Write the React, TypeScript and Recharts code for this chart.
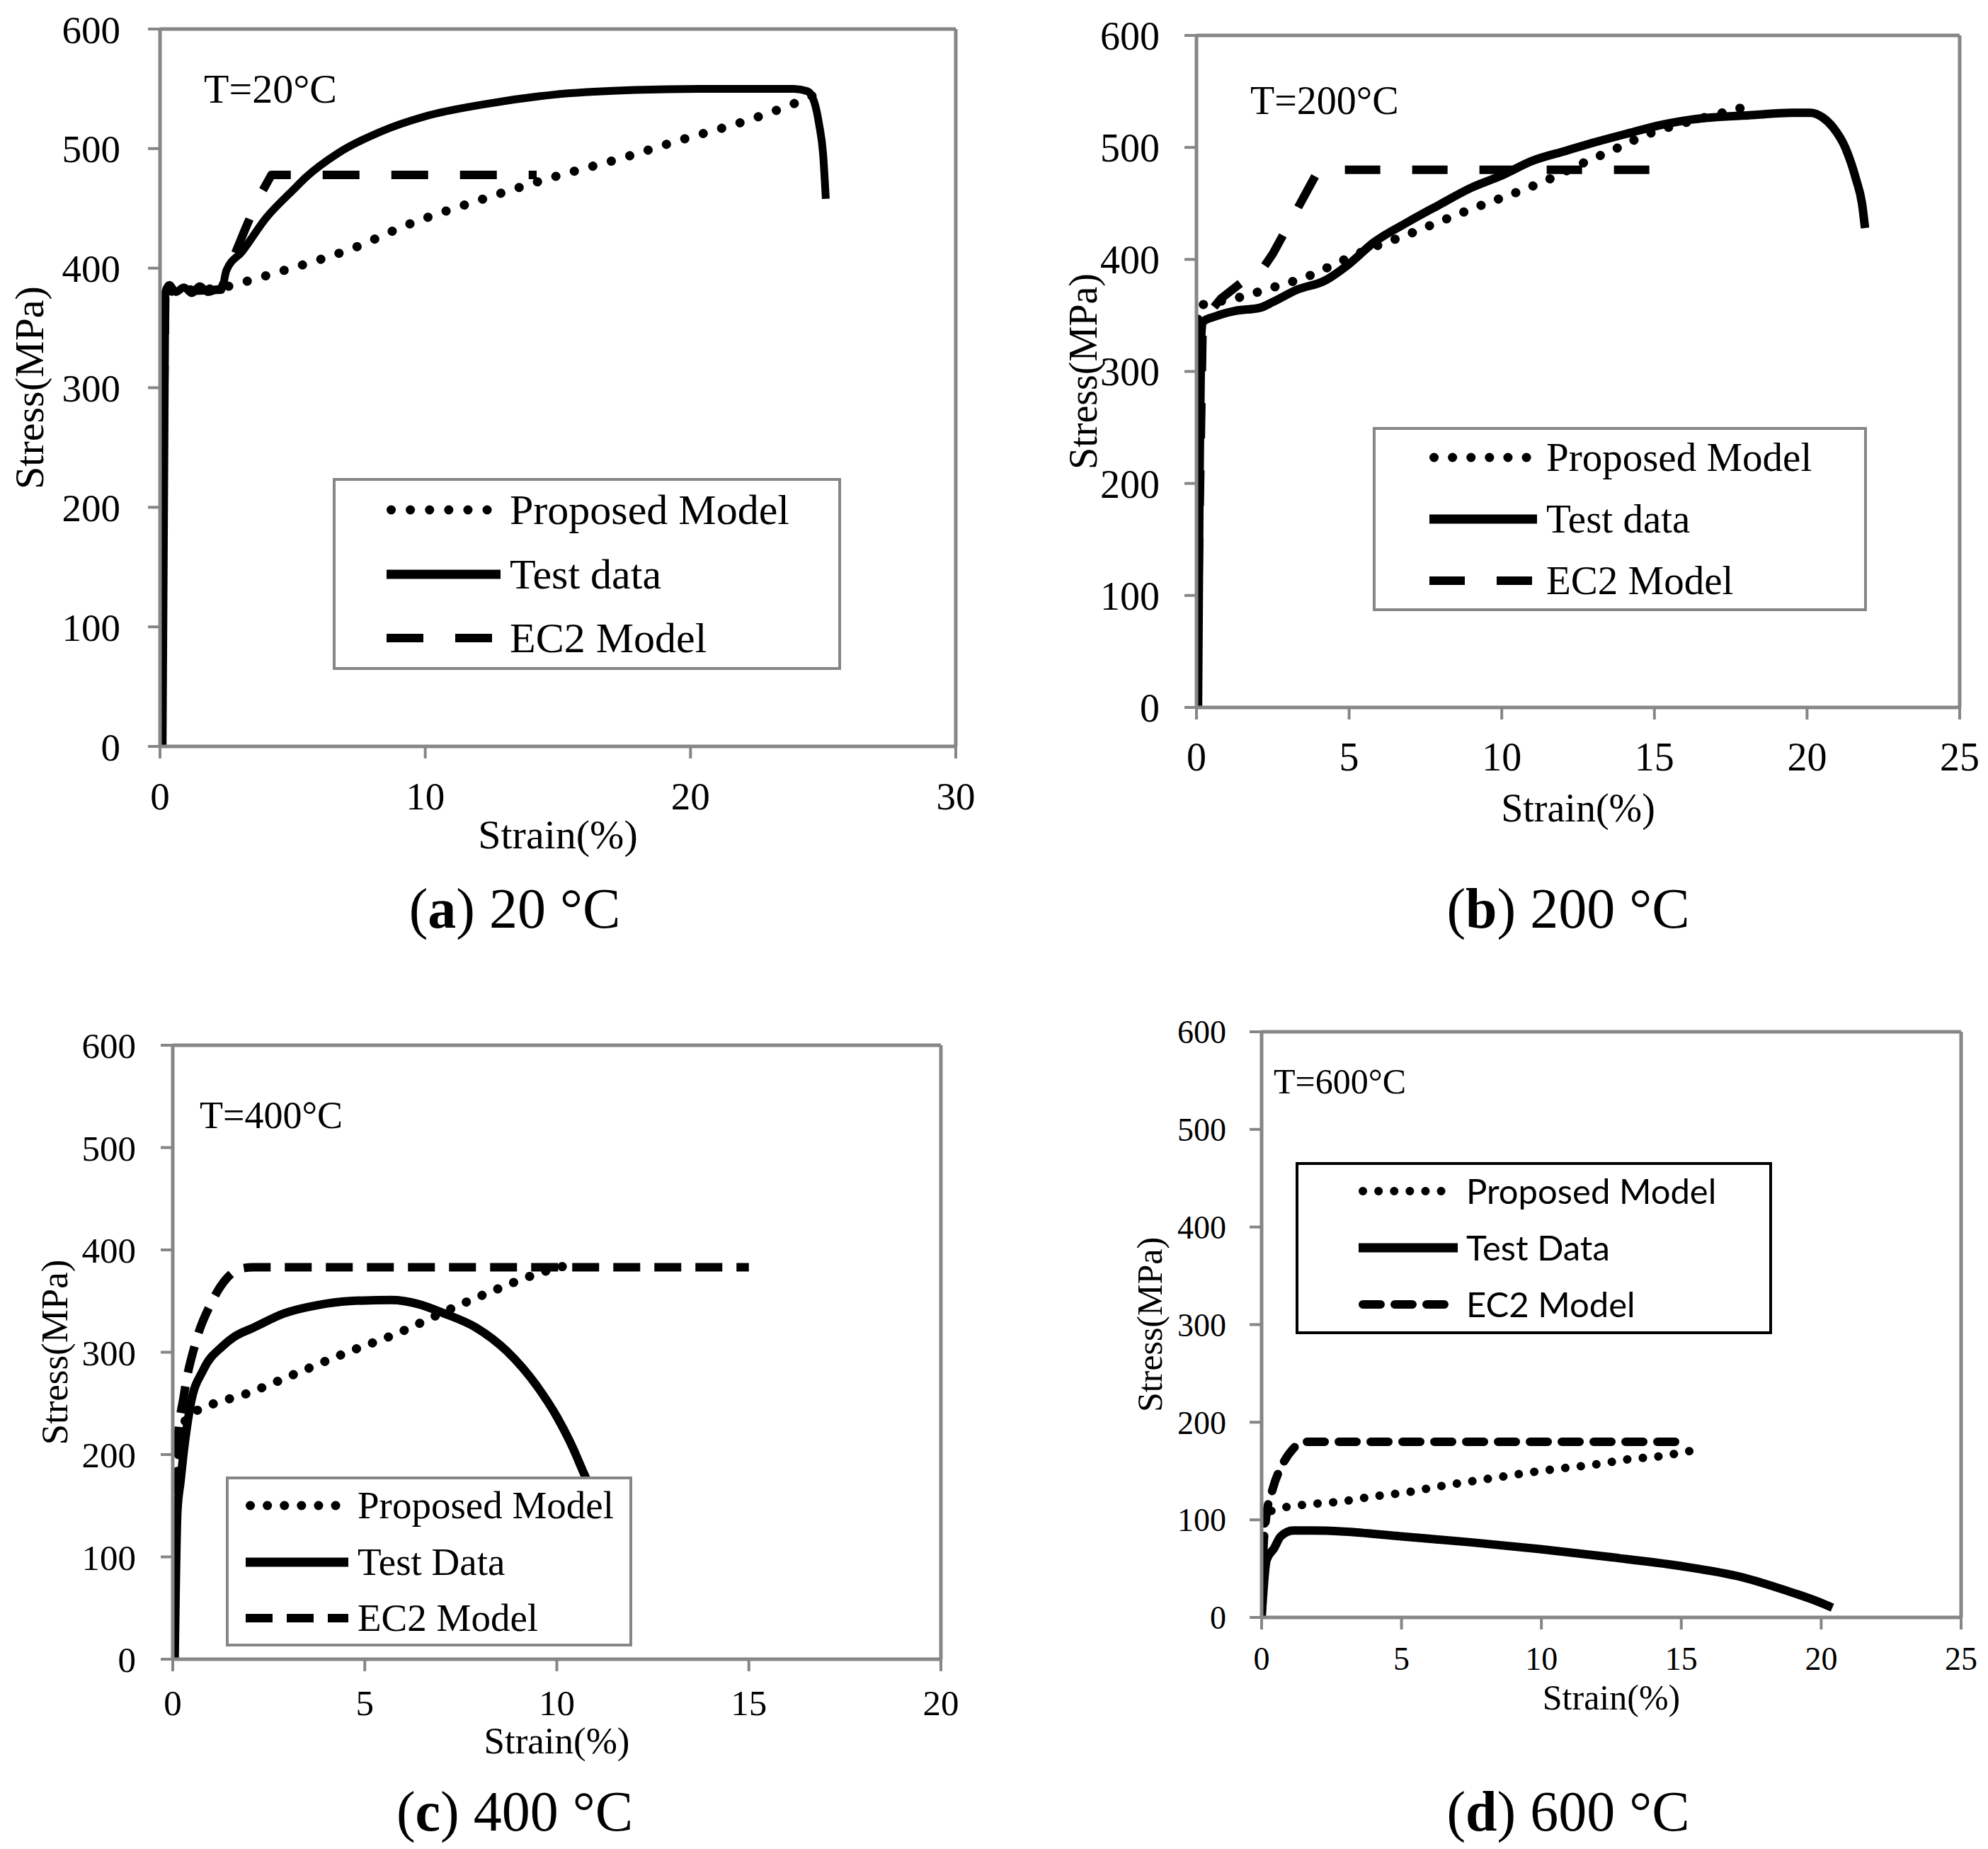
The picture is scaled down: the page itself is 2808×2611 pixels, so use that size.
import React from 'react';
import { LineChart, Line, XAxis, YAxis, ReferenceLine, Legend } from 'recharts';

// ---------- data (strain %, stress MPa) ----------
const Y_TICKS = [0, 100, 200, 300, 400, 500, 600];
const X_TICKS_A = [0, 10, 20, 30];
const X_TICKS_B = [0, 5, 10, 15, 20, 25];
const X_TICKS_C = [0, 5, 10, 15, 20];
const X_TICKS_D = [0, 5, 10, 15, 20, 25];

const SERIES_NAMES_AB = ['Proposed Model', 'Test data', 'EC2 Model'];
const SERIES_NAMES_CD = ['Proposed Model', 'Test Data', 'EC2 Model'];

const A_PROPOSED = [[0, 0], [0.2, 380], [2.4, 384], [3.1, 388], [4.5, 397], [6, 407], [7.2, 416], [9.3, 436], [12.2, 458], [14.8, 476], [17.4, 492], [19.6, 507], [22.2, 524], [23.6, 535], [25.1, 549]];
const A_TEST = [[0.1, 0], [0.2, 380], [0.35, 386], [0.6, 380], [0.9, 384], [1.2, 379], [1.5, 385], [1.8, 380], [2.1, 382], [2.35, 384], [2.5, 398], [3.1, 414], [4.0, 442], [5.0, 465], [5.5, 476], [6.7, 496], [8.3, 514], [10, 527], [12.2, 537], [14.8, 545], [17.9, 549], [20.3, 550], [23.9, 550], [24.4, 548], [24.65, 540], [24.85, 520], [25.0, 495], [25.1, 458]];
const A_EC2 = [[0, 0], [0.2, 380], [2.3, 382], [2.7, 405], [3.2, 432], [3.7, 458], [4.2, 478], [14.2, 478]];

const B_PROPOSED = [[0, 0], [0.05, 358], [1.25, 365], [2.5, 375], [3.75, 386], [4.7, 398], [5.8, 411], [6.9, 422], [7.9, 433], [9.2, 447], [10.4, 459], [11.5, 471], [12.5, 484], [13.75, 499], [14.8, 512], [16.0, 522], [17.1, 530], [18.1, 537]];
const B_TEST = [[0.05, 0], [0.1, 200], [0.15, 328], [0.2, 344], [0.6, 349], [1.25, 354], [2.1, 357], [2.5, 362], [3.3, 373], [4.2, 381], [5.0, 396], [5.8, 415], [6.9, 433], [7.9, 448], [9.0, 464], [10, 475], [11, 488], [12.1, 497], [13.1, 505], [14.2, 513], [15.2, 520], [16.25, 525], [18.3, 529], [19.5, 531], [20.1, 531], [20.5, 527], [20.85, 518], [21.25, 500], [21.6, 472], [21.8, 450], [21.9, 428]];
const B_EC2 = [[0, 0], [0.2, 340], [0.5, 355], [0.8, 365], [1.6, 382], [2.0, 385], [2.5, 405], [3.0, 430], [3.5, 455], [3.9, 475], [4.2, 480], [15, 480]];

const C_PROPOSED = [[0, 0], [0.15, 200], [0.4, 238], [0.76, 245], [2.03, 261], [3.26, 280], [4.55, 300], [5.82, 318], [7.1, 340], [8.4, 361], [9.6, 378], [10.5, 387]];
const C_TEST = [[0.05, 0], [0.12, 144], [0.2, 173], [0.28, 201], [0.46, 248], [0.8, 283], [1.3, 306], [1.6, 315], [2.1, 324], [2.9, 338], [3.76, 346], [4.6, 350], [5.7, 351], [6.4, 347], [7.06, 338], [7.9, 324], [8.7, 301], [9.5, 266], [10.0, 237], [10.4, 208], [10.7, 182], [10.9, 165]];
const C_EC2 = [[0, 0], [0.1, 200], [0.3, 260], [0.6, 310], [1.0, 348], [1.4, 372], [1.8, 382], [2.1, 383], [15, 383]];

const D_PROPOSED = [[0, 0], [0.1, 95], [0.2, 107], [0.86, 113], [1.76, 116], [2.9, 119], [4.0, 124], [5.16, 128], [6.3, 134], [7.4, 139], [8.55, 144], [9.7, 149], [10.8, 153], [12.0, 157], [13.1, 162], [14.2, 165], [15.4, 171]];
const D_TEST = [[0, 0], [0.18, 59], [0.45, 71], [0.68, 83], [1.13, 89], [1.8, 89], [2.94, 88], [4.98, 83], [7.47, 77], [9.95, 70], [12.4, 62], [14.9, 53], [17.2, 41], [18.7, 28], [19.9, 16], [20.4, 10]];
const D_EC2 = [[0, 0], [0.05, 60], [0.15, 100], [0.4, 132], [0.75, 157], [1.1, 172], [1.5, 180], [15.1, 180]];

const toPts = (arr: number[][]) => arr.map(([x, y]) => ({ x, y }));

// ---------- styling / layout ----------
const GRAY = '#868686';
const SERIF = '"Liberation Serif", "Times New Roman", serif';
const SANS = 'Lato, "Open Sans", sans-serif';
const AX_W = 240;
const AX_H = 200;
const M_TOP = 80;
const M_RIGHT = 40;

type LineStyle = { width: number; dash?: string; cap?: 'round' | 'butt'; curve: 'linear' | 'monotone' };

type Panel = {
  key: string;
  rect: [number, number, number, number];
  xMax: number;
  xTicks: number[];
  data: number[][][];
  names: string[];
  styles: LineStyle[];
  tickFont: number;
  yTickMargin: number;
  xTickMargin: number;
  titleFont: number;
  stressX: number;
  strainBaseline: number;
  legend: { box: [number, number, number, number]; rows: number[]; sample: [number, number]; textX: number; font: number; family: string; border: string; capShift: number };
};

const PANELS: Panel[] = [
  {
    key: 'a', rect: [226, 41, 1350, 1054], xMax: 30, xTicks: X_TICKS_A,
    data: [A_PROPOSED, A_TEST, A_EC2], names: SERIES_NAMES_AB,
    styles: [
      { width: 13, dash: '0.1 27', cap: 'round', curve: 'monotone' },
      { width: 11, curve: 'monotone' },
      { width: 12, dash: '52 45', cap: 'butt', curve: 'linear' },
    ],
    tickFont: 55, yTickMargin: 39, xTickMargin: 33, titleFont: 58, stressX: 40, strainBaseline: 1198,
    legend: { box: [470, 675, 1188, 946], rows: [720, 811, 901], sample: [546, 707], textX: 720, font: 60, family: SERIF, border: GRAY, capShift: 0.33 },
  },
  {
    key: 'b', rect: [1690, 50, 2768, 999], xMax: 25, xTicks: X_TICKS_B,
    data: [B_PROPOSED, B_TEST, B_EC2], names: SERIES_NAMES_AB,
    styles: [
      { width: 13, dash: '0.1 26', cap: 'round', curve: 'monotone' },
      { width: 12, curve: 'monotone' },
      { width: 12, dash: '50 45', cap: 'butt', curve: 'linear' },
    ],
    tickFont: 56, yTickMargin: 35, xTickMargin: 32, titleFont: 56, stressX: 1529, strainBaseline: 1160,
    legend: { box: [1939, 603, 2637, 863], rows: [646, 733, 820], sample: [2019, 2171], textX: 2184, font: 57, family: SERIF, border: GRAY, capShift: 0.33 },
  },
  {
    key: 'c', rect: [244, 1476, 1329, 2343], xMax: 20, xTicks: X_TICKS_C,
    data: [C_PROPOSED, C_TEST, C_EC2], names: SERIES_NAMES_CD,
    styles: [
      { width: 13, dash: '0.1 24', cap: 'round', curve: 'monotone' },
      { width: 12, curve: 'monotone' },
      { width: 12, dash: '38 20', cap: 'butt', curve: 'monotone' },
    ],
    tickFont: 51, yTickMargin: 35, xTickMargin: 26, titleFont: 53, stressX: 76, strainBaseline: 2476,
    legend: { box: [319, 2085, 893, 2325], rows: [2126, 2206, 2285], sample: [347, 492], textX: 505, font: 55, family: SERIF, border: GRAY, capShift: 0.33 },
  },
  {
    key: 'd', rect: [1782, 1457, 2770, 2284], xMax: 25, xTicks: X_TICKS_D,
    data: [D_PROPOSED, D_TEST, D_EC2], names: SERIES_NAMES_CD,
    styles: [
      { width: 12, dash: '0.1 22', cap: 'round', curve: 'monotone' },
      { width: 12, curve: 'monotone' },
      { width: 12, dash: '25 20', cap: 'round', curve: 'monotone' },
    ],
    tickFont: 46, yTickMargin: 33, xTickMargin: 24, titleFont: 50, stressX: 1623, strainBaseline: 2414,
    legend: { box: [1830, 1641, 2503, 1884], rows: [1682, 1762, 1842], sample: [1919, 2059], textX: 2071, font: 49, family: SANS, border: '#000', capShift: 0.36 },
  },
];

const T_LABELS = [
  { text: 'T=20°C', x: 288, y: 145, size: 58 },
  { text: 'T=200°C', x: 1766, y: 161, size: 56 },
  { text: 'T=400°C', x: 282, y: 1593, size: 54 },
  { text: 'T=600°C', x: 1799, y: 1544, size: 50 },
];

const CAPTIONS = [
  { letter: 'a', rest: ' 20 °C', x: 727, y: 1310 },
  { letter: 'b', rest: ' 200 °C', x: 2215, y: 1310 },
  { letter: 'c', rest: ' 400 °C', x: 727, y: 2585 },
  { letter: 'd', rest: ' 600 °C', x: 2215, y: 2585 },
];

function LegendBox({ p }: { p: Panel }) {
  const lg = p.legend;
  const [bl, bt, br, bb] = lg.box;
  const w = br - bl;
  const h = bb - bt;
  const bw = 4;
  return (
    <svg width={w} height={h} style={{ display: 'block' }}>
      <rect x={bw / 2} y={bw / 2} width={w - bw} height={h - bw} fill="#fff" stroke={lg.border} strokeWidth={bw} />
      {p.names.map((name, i) => {
        const st = p.styles[i];
        const ry = lg.rows[i] - bt;
        return (
          <g key={name}>
            <line
              x1={lg.sample[0] - bl + (st.cap === 'round' ? st.width / 2 : 0)}
              x2={lg.sample[1] - bl - (st.cap === 'round' ? st.width / 2 : 0)}
              y1={ry}
              y2={ry}
              stroke="#000"
              strokeWidth={i === 1 ? 13 : st.width}
              strokeDasharray={st.dash}
              strokeLinecap={st.cap === 'round' ? 'round' : 'butt'}
            />
            <text x={lg.textX - bl} y={ry + lg.font * lg.capShift} fontSize={lg.font} fontFamily={lg.family} fill="#000">
              {name}
            </text>
          </g>
        );
      })}
    </svg>
  );
}

function PanelChart({ p }: { p: Panel }) {
  const [L, T, R, B] = p.rect;
  const chartLeft = L - AX_W;
  const chartTop = T - M_TOP;
  const width = R - L + AX_W + M_RIGHT;
  const height = B - T + M_TOP + AX_H;
  const lg = p.legend;
  const axisLine = { stroke: GRAY, strokeWidth: 5 };
  const tickLine = { stroke: GRAY, strokeWidth: 4 };
  return (
    <div style={{ position: 'absolute', left: chartLeft, top: chartTop, width, height }}>
      <LineChart width={width} height={height} margin={{ top: M_TOP, right: M_RIGHT, bottom: 0, left: 0 }}>
        <XAxis
          type="number"
          dataKey="x"
          domain={[0, p.xMax]}
          ticks={p.xTicks}
          interval={0}
          height={AX_H}
          allowDataOverflow
          axisLine={axisLine}
          tickLine={tickLine}
          tickSize={17}
          tickMargin={p.xTickMargin}
          tick={{ fill: '#000', fontSize: p.tickFont, fontFamily: SERIF }}
          label={{
            value: 'Strain(%)',
            position: 'insideBottom',
            offset: B + AX_H - p.strainBaseline,
            fill: '#000',
            fontSize: p.titleFont,
            fontFamily: SERIF,
          }}
        />
        <YAxis
          type="number"
          domain={[0, 600]}
          ticks={Y_TICKS}
          interval={0}
          width={AX_W}
          allowDataOverflow
          axisLine={axisLine}
          tickLine={tickLine}
          tickSize={17}
          tickMargin={p.yTickMargin}
          tick={{ fill: '#000', fontSize: p.tickFont, fontFamily: SERIF }}
          label={{
            value: 'Stress(MPa)',
            angle: -90,
            position: 'insideLeft',
            offset: p.stressX - chartLeft,
            fill: '#000',
            fontSize: p.titleFont,
            fontFamily: SERIF,
            style: { textAnchor: 'middle' },
          }}
        />
        <ReferenceLine y={600} stroke={GRAY} strokeWidth={5} />
        <ReferenceLine x={p.xMax} stroke={GRAY} strokeWidth={5} />
        {p.data.map((d, i) => {
          const st = p.styles[i];
          return (
            <Line
              key={p.names[i]}
              name={p.names[i]}
              data={toPts(d)}
              dataKey="y"
              type={st.curve}
              stroke="#000"
              strokeWidth={st.width}
              strokeDasharray={st.dash}
              strokeLinecap={st.cap === 'round' ? 'round' : 'butt'}
              strokeLinejoin="round"
              dot={false}
              activeDot={false}
              isAnimationActive={false}
              legendType="line"
            />
          );
        })}
        <Legend
          layout="vertical"
          align="center"
          verticalAlign="middle"
          content={() => <LegendBox p={p} />}
          wrapperStyle={{
            position: 'absolute',
            left: lg.box[0] - chartLeft,
            top: lg.box[1] - chartTop,
            width: lg.box[2] - lg.box[0],
            height: lg.box[3] - lg.box[1],
            right: 'auto',
            bottom: 'auto',
            margin: 0,
            padding: 0,
          }}
        />
      </LineChart>
    </div>
  );
}

export default function App() {
  return (
    <div style={{ position: 'absolute', left: 0, top: 0, width: 2808, height: 2611, background: '#fff', overflow: 'hidden' }}>
      {PANELS.map((p) => (
        <PanelChart key={p.key} p={p} />
      ))}
      <svg width={2808} height={2611} style={{ position: 'absolute', left: 0, top: 0, pointerEvents: 'none' }}>
        {T_LABELS.map((t) => (
          <text key={t.text} x={t.x} y={t.y} fontSize={t.size} fontFamily={SERIF} fill="#000">
            {t.text}
          </text>
        ))}
        {CAPTIONS.map((c) => (
          <text key={c.letter} x={c.x} y={c.y} fontSize={80} fontFamily={SERIF} fill="#000" textAnchor="middle">
            (<tspan fontWeight="bold">{c.letter}</tspan>){c.rest}
          </text>
        ))}
      </svg>
    </div>
  );
}
